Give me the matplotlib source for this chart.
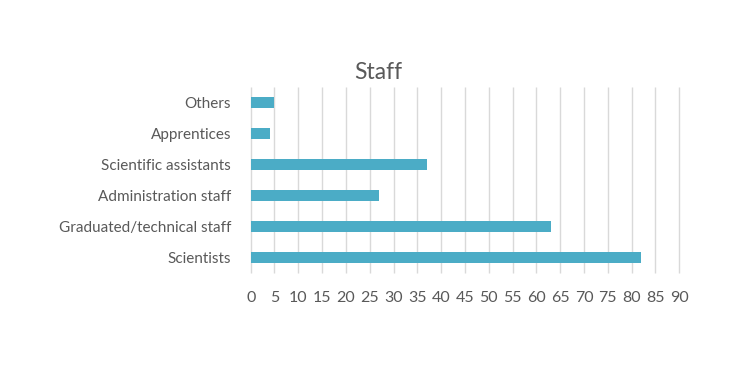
import numpy as np
import matplotlib
matplotlib.use('Agg')
import matplotlib.pyplot as plt

categories = ['Scientists', 'Graduated/technical staff', 'Administration staff',
              'Scientific assistants', 'Apprentices', 'Others']
values = [82, 63, 27, 37, 4, 5]
xticks = list(range(0, 95, 5))

textColor = '#595959'
barColor = '#4BACC6'
gridColor = '#D9D9D9'

plt.rcParams['font.family'] = ['Lato', 'Open Sans', 'DejaVu Sans']

fig = plt.figure(figsize=(7.56, 3.74), dpi=100)
ax = fig.add_axes([0.3316, 0.270, 0.8985 - 0.3316, 0.7674 - 0.270])

ypos = np.arange(len(categories))
ax.barh(ypos, values, height=0.34, color=barColor, zorder=3)

ax.set_xlim(0, 90)
ax.set_ylim(-0.5, len(categories) - 0.5)
ax.set_xticks(xticks)
ax.set_xticklabels([str(t) for t in xticks], fontsize=11.5, color=textColor)
ax.set_yticks(ypos)
ax.set_yticklabels(categories, fontsize=11, color=textColor)
ax.tick_params(axis='x', length=0, pad=13)
ax.tick_params(axis='y', length=0, pad=14)

# vertical gridlines, drawn unclipped so the one at 90 shows fully
ax.vlines(xticks, -0.5, len(categories) - 0.5, color=gridColor, linewidth=1,
          zorder=0, clip_on=False)
for s in ax.spines.values():
    s.set_visible(False)

fig.text(0.5, 0.807, 'Staff', ha='center', va='center', fontsize=16.5, color=textColor)

fig.savefig('out.png', dpi=100)
